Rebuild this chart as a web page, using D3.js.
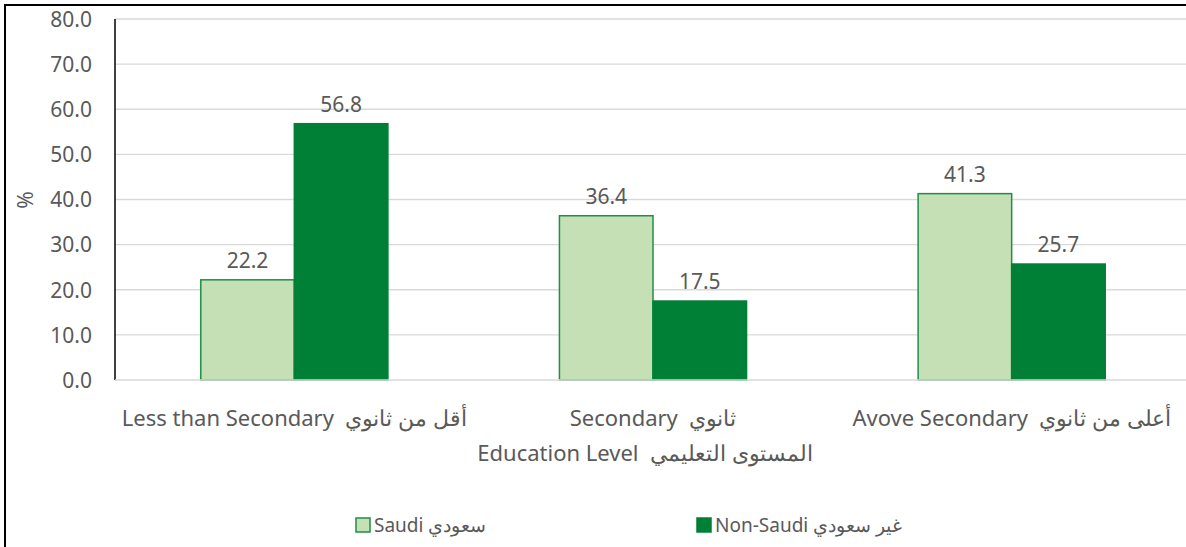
<!DOCTYPE html>
<html>
<head>
<meta charset="utf-8">
<script src="https://cdn.jsdelivr.net/npm/d3@7"></script>
<style>
	body { margin: 0; background: #fff; }
	text { font-family: "Noto Sans", sans-serif; fill: #595959; white-space: pre; }
</style>
</head>
<body>
<svg id="chart" width="1186" height="547"></svg>
<script>
var categories = ["Less than Secondary  أقل من ثانوي", "Secondary  ثانوي", "Avove Secondary  أعلى من ثانوي"];
var seriesNames = ["Saudi سعودي", "Non-Saudi غير سعودي"];
var saudi = [22.2, 36.4, 41.3];
var nonSaudi = [56.8, 17.5, 25.7];
var yTicks = [0, 10, 20, 30, 40, 50, 60, 70, 80];

var colors = ["#c5e0b4", "#007f36"];
var strokes = ["#1f8f46", "#007f36"];

var svg = d3.select('#chart'),
	margin = {top: 19, right: -5, bottom: 167, left: 115},
	width = +svg.attr("width") - margin.left - margin.right,
	height = +svg.attr("height") - margin.top - margin.bottom;

// outer frame (runs off the right and bottom edges)
svg.append("rect")
	.attr("x", 5).attr("y", 5)
	.attr("width", 1200).attr("height", 560)
	.attr("fill", "none")
	.attr("stroke", "#000")
	.attr("stroke-width", 2);

var chart = svg.append("g")
	.attr("transform", "translate(" + margin.left + "," + margin.top + ")");

var x0 = d3.scaleBand()
	.domain(categories)
	.range([0, width]);
var x1 = d3.scaleBand()
	.domain([0, 1])
	.range([0, x0.bandwidth()])
	.paddingOuter(0.917);
var y = d3.scaleLinear()
	.domain([0, 80])
	.range([height, 0]);

// gridlines
chart.append("g").selectAll("line")
	.data(yTicks.slice(1))
	.enter().append("line")
	.attr("x1", 0).attr("x2", width)
	.attr("y1", function(d) { return y(d); })
	.attr("y2", function(d) { return y(d); })
	.attr("stroke", "#d9d9d9")
	.attr("stroke-width", 1.3);

var yAxis = chart.append("g")
	.call(d3.axisLeft(y).tickValues(yTicks).tickFormat(d3.format(".1f")).tickSize(0).tickPadding(23));
yAxis.select(".domain").remove();
yAxis.selectAll("text").style("font-size", "21px").attr("fill", "#595959").attr("dy", "0.35em");

chart.append("line")
	.attr("x1", 0).attr("x2", 0)
	.attr("y1", 0).attr("y2", height)
	.attr("stroke", "#000").attr("stroke-width", 1.5);

var rows = categories.map(function(c, i) {
	return {cat: c, values: [saudi[i], nonSaudi[i]]};
});

var group = chart.selectAll("g.grp")
	.data(rows)
	.enter().append("g")
	.attr("class", "grp")
	.attr("transform", function(d) { return "translate(" + x0(d.cat) + ",0)"; });

group.selectAll("rect")
	.data(function(d) { return d.values; })
	.enter().append("rect")
	.attr("x", function(d, i) { return x1(i); })
	.attr("y", function(d) { return y(d); })
	.attr("width", x1.bandwidth())
	.attr("height", function(d) { return height - y(d); })
	.attr("fill", function(d, i) { return colors[i]; })
	.attr("stroke", function(d, i) { return strokes[i]; })
	.attr("stroke-width", 1.5);

group.selectAll("text.val")
	.data(function(d) { return d.values; })
	.enter().append("text")
	.attr("class", "val")
	.attr("x", function(d, i) { return x1(i) + x1.bandwidth() / 2; })
	.attr("y", function(d) { return y(d) - 12; })
	.attr("text-anchor", "middle")
	.style("font-size", "21px")
	.text(function(d) { return d.toFixed(1); });

// baseline
chart.append("line")
	.attr("x1", 0).attr("x2", width)
	.attr("y1", height).attr("y2", height)
	.attr("stroke", "#d9d9d9").attr("stroke-width", 1.5);

// category labels
chart.selectAll("text.cat")
	.data(categories)
	.enter().append("text")
	.attr("class", "cat")
	.attr("x", function(d) { return x0(d) + x0.bandwidth() / 2; })
	.attr("y", height + 46)
	.attr("text-anchor", "middle")
	.style("font-size", "22px")
	.text(function(d) { return d; });

svg.append("text")
	.attr("x", 645)
	.attr("y", 461)
	.attr("text-anchor", "middle")
	.style("font-size", "22px")
	.text("Education Level  المستوى التعليمي");

svg.append("text")
	.attr("transform", "translate(33,200) rotate(-90)")
	.attr("text-anchor", "middle")
	.style("font-size", "21px")
	.text("%");

// legend
var legendX = [356, 697];
var legend = svg.selectAll("g.leg")
	.data(seriesNames)
	.enter().append("g")
	.attr("class", "leg")
	.attr("transform", function(d, i) { return "translate(" + legendX[i] + ",518)"; });
legend.append("rect")
	.attr("width", 14).attr("height", 14)
	.attr("fill", function(d, i) { return colors[i]; })
	.attr("stroke", function(d, i) { return strokes[i]; })
	.attr("stroke-width", 1.5);
legend.append("text")
	.attr("x", 18)
	.attr("y", 14)
	.style("font-size", "19px")
	.text(function(d) { return d; });
</script>
</body>
</html>
